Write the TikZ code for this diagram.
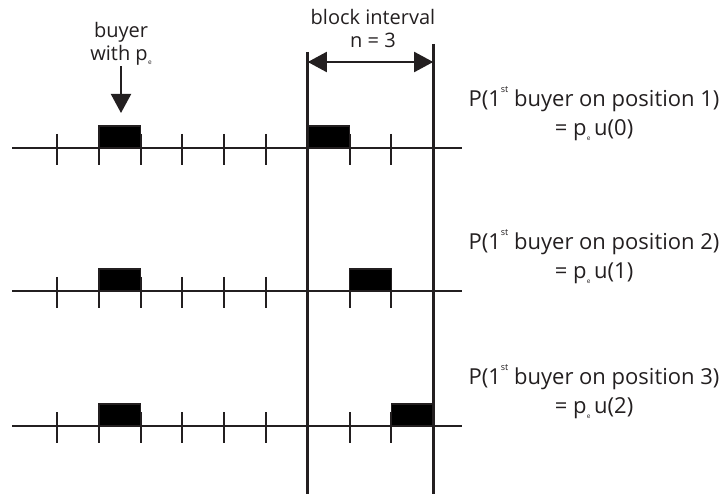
\documentclass[tikz,border=0pt]{standalone}
\usepackage{fontspec}
\setmainfont{Open Sans}
\usetikzlibrary{arrows.meta}
\definecolor{ink}{HTML}{231F20}
\newcommand{\pe}{p\kern.3pt\raisebox{-.4ex}{\fontsize{6.5}{6.5}\selectfont e}}
\newcommand{\firstst}{1\raisebox{1.2ex}{\fontsize{9}{9}\selectfont st}}
\tikzset{
  blk/.style={fill=black,draw=ink,line width=1.5pt},
  lbl/.style={text=ink,font=\fontsize{20}{23}\selectfont,inner sep=0pt,align=center},
  bigtip/.tip={Triangle[length=19pt,width=20pt]}
}
\begin{document}
\begin{tikzpicture}[x=1pt,y=-1pt,line width=2pt,draw=ink]
  \useasboundingbox (0,0) rectangle (726,497);
  \node[lbl] (buyer) at (121,44) {buyer\\with \pe};
  \coordinate (buyertip) at (121,113);
  \draw[-bigtip] (buyer.south) -- (buyertip);
  \node[lbl] (interval) at (373,29) {block interval\\n = 3};
  \coordinate (ltop) at (307.8,52); \coordinate (lbot) at (307.8,494);
  \coordinate (rtop) at (433.2,44); \coordinate (rbot) at (433.2,494);
  \draw[line width=3pt] (ltop) -- (lbot); \draw[line width=3pt] (rtop) -- (rbot);
  \coordinate (al) at (307.8,62); \coordinate (ar) at (433.2,62);
  \draw[bigtip-bigtip] (al) -- (ar);
  \foreach \row/\ypos/\k in {1/148/0,2/291/1,3/426/2}{
    \draw (12,\ypos) -- (462,\ypos);
    \foreach \i in {0,...,9} \draw (57+41.8*\i,\ypos) +(0,-14) -- +(0,17);
    \draw[blk] (98.8,\ypos) rectangle +(41.8,-22);
    \draw[blk] (307.8+41.8*\k,\ypos) rectangle +(41.8,-22);
    \node[lbl,font=\fontsize{22}{29}\selectfont] (prob\row) at (594,\ypos-34)
      {P(\firstst{} buyer on position \row)\\= \pe\,u(\k)};
  }
\end{tikzpicture}
\end{document}
